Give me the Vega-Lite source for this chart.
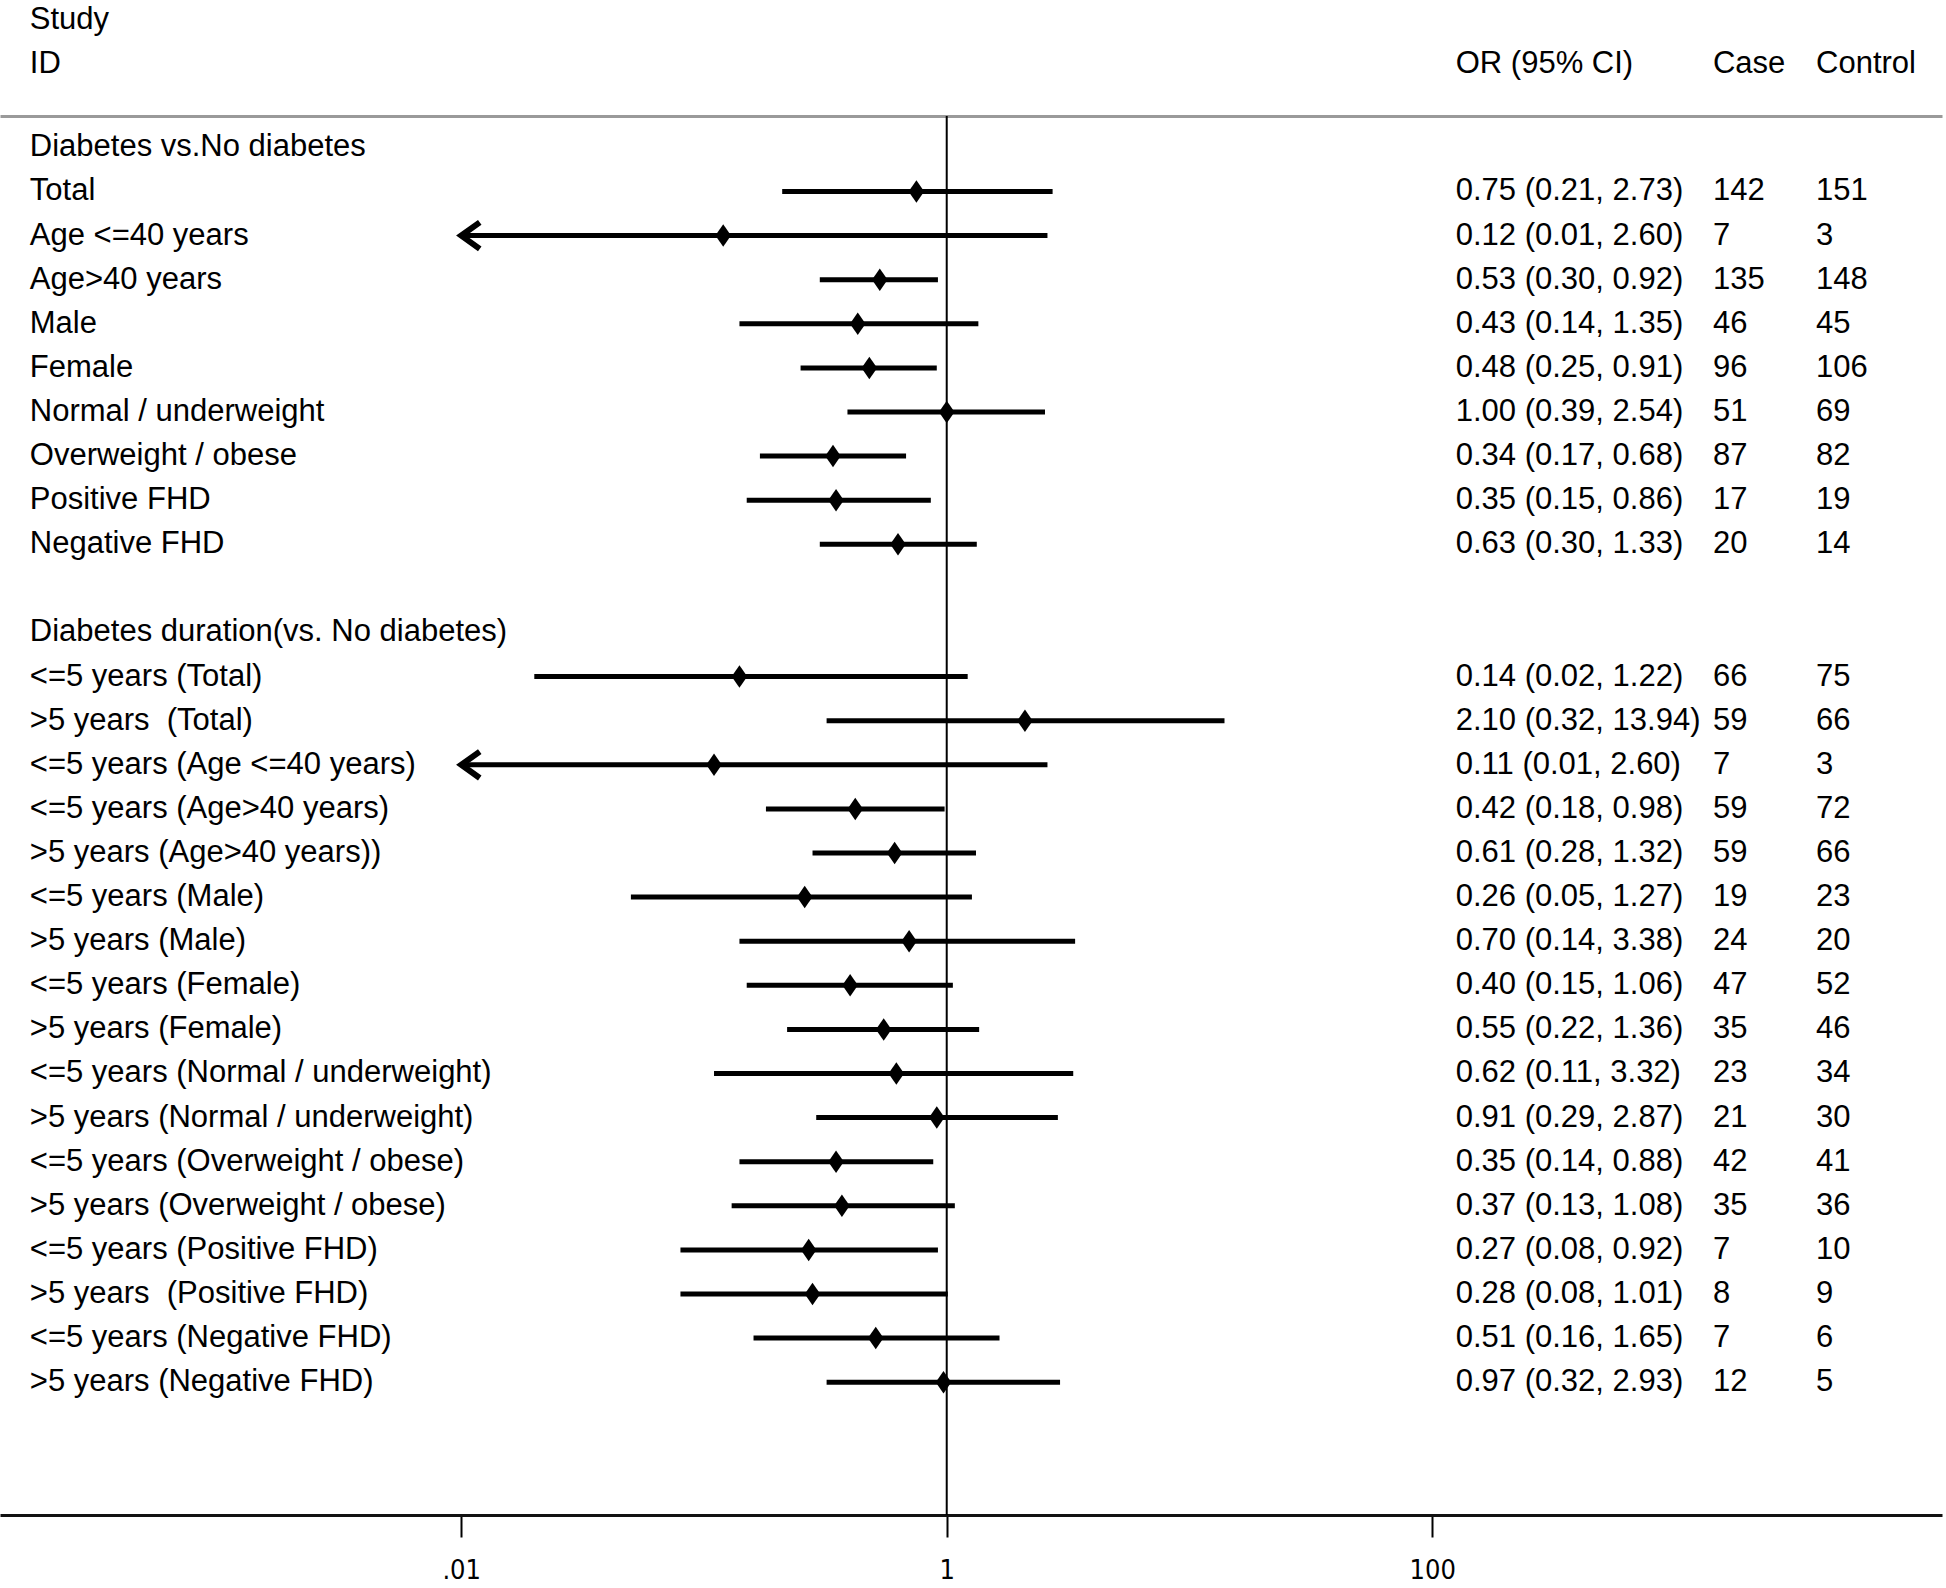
{
  "$schema": "https://vega.github.io/schema/vega-lite/v6.json",
  "background": "white",
  "padding": {"left": 0, "top": 3, "right": 4, "bottom": 0},
  "bounds": "flush",
  "config": {"view": {"stroke": null}, "font": "Liberation Sans", "text": {"font": "Liberation Sans", "fontSize": 31, "color": "black"}},
  "datasets": {
    "header": [
      {"key": "Study", "label": "Study"},
      {"key": "ID", "label": "ID", "est": "OR (95% CI)", "case": "Case", "control": "Control"}
    ],
    "rows": [
      {"key": "Diabetes vs.No diabetes", "label": "Diabetes vs.No diabetes"},
      {"key": "Total", "label": "Total", "or": 0.75, "lo": 0.21, "hi": 2.73, "est": "0.75 (0.21, 2.73)", "case": 142, "control": 151},
      {"key": "Age <=40 years", "label": "Age <=40 years", "or": 0.12, "lo": 0.01, "hi": 2.60, "est": "0.12 (0.01, 2.60)", "case": 7, "control": 3},
      {"key": "Age>40 years", "label": "Age>40 years", "or": 0.53, "lo": 0.30, "hi": 0.92, "est": "0.53 (0.30, 0.92)", "case": 135, "control": 148},
      {"key": "Male", "label": "Male", "or": 0.43, "lo": 0.14, "hi": 1.35, "est": "0.43 (0.14, 1.35)", "case": 46, "control": 45},
      {"key": "Female", "label": "Female", "or": 0.48, "lo": 0.25, "hi": 0.91, "est": "0.48 (0.25, 0.91)", "case": 96, "control": 106},
      {"key": "Normal / underweight", "label": "Normal / underweight", "or": 1.00, "lo": 0.39, "hi": 2.54, "est": "1.00 (0.39, 2.54)", "case": 51, "control": 69},
      {"key": "Overweight / obese", "label": "Overweight / obese", "or": 0.34, "lo": 0.17, "hi": 0.68, "est": "0.34 (0.17, 0.68)", "case": 87, "control": 82},
      {"key": "Positive FHD", "label": "Positive FHD", "or": 0.35, "lo": 0.15, "hi": 0.86, "est": "0.35 (0.15, 0.86)", "case": 17, "control": 19},
      {"key": "Negative FHD", "label": "Negative FHD", "or": 0.63, "lo": 0.30, "hi": 1.33, "est": "0.63 (0.30, 1.33)", "case": 20, "control": 14},
      {"key": "blank", "label": ""},
      {"key": "Diabetes duration(vs. No diabetes)", "label": "Diabetes duration(vs. No diabetes)"},
      {"key": "<=5 years (Total)", "label": "<=5 years (Total)", "or": 0.14, "lo": 0.02, "hi": 1.22, "est": "0.14 (0.02, 1.22)", "case": 66, "control": 75},
      {"key": ">5 years (Total)", "label": ">5 years \u00a0(Total)", "or": 2.10, "lo": 0.32, "hi": 13.94, "est": "2.10 (0.32, 13.94)", "case": 59, "control": 66},
      {"key": "<=5 years (Age <=40 years)", "label": "<=5 years (Age <=40 years)", "or": 0.11, "lo": 0.01, "hi": 2.60, "est": "0.11 (0.01, 2.60)", "case": 7, "control": 3},
      {"key": "<=5 years (Age>40 years)", "label": "<=5 years (Age>40 years)", "or": 0.42, "lo": 0.18, "hi": 0.98, "est": "0.42 (0.18, 0.98)", "case": 59, "control": 72},
      {"key": ">5 years (Age>40 years))", "label": ">5 years (Age>40 years))", "or": 0.61, "lo": 0.28, "hi": 1.32, "est": "0.61 (0.28, 1.32)", "case": 59, "control": 66},
      {"key": "<=5 years (Male)", "label": "<=5 years (Male)", "or": 0.26, "lo": 0.05, "hi": 1.27, "est": "0.26 (0.05, 1.27)", "case": 19, "control": 23},
      {"key": ">5 years (Male)", "label": ">5 years (Male)", "or": 0.70, "lo": 0.14, "hi": 3.38, "est": "0.70 (0.14, 3.38)", "case": 24, "control": 20},
      {"key": "<=5 years (Female)", "label": "<=5 years (Female)", "or": 0.40, "lo": 0.15, "hi": 1.06, "est": "0.40 (0.15, 1.06)", "case": 47, "control": 52},
      {"key": ">5 years (Female)", "label": ">5 years (Female)", "or": 0.55, "lo": 0.22, "hi": 1.36, "est": "0.55 (0.22, 1.36)", "case": 35, "control": 46},
      {"key": "<=5 years (Normal / underweight)", "label": "<=5 years (Normal / underweight)", "or": 0.62, "lo": 0.11, "hi": 3.32, "est": "0.62 (0.11, 3.32)", "case": 23, "control": 34},
      {"key": ">5 years (Normal / underweight)", "label": ">5 years (Normal / underweight)", "or": 0.91, "lo": 0.29, "hi": 2.87, "est": "0.91 (0.29, 2.87)", "case": 21, "control": 30},
      {"key": "<=5 years (Overweight / obese)", "label": "<=5 years (Overweight / obese)", "or": 0.35, "lo": 0.14, "hi": 0.88, "est": "0.35 (0.14, 0.88)", "case": 42, "control": 41},
      {"key": ">5 years (Overweight / obese)", "label": ">5 years (Overweight / obese)", "or": 0.37, "lo": 0.13, "hi": 1.08, "est": "0.37 (0.13, 1.08)", "case": 35, "control": 36},
      {"key": "<=5 years (Positive FHD)", "label": "<=5 years (Positive FHD)", "or": 0.27, "lo": 0.08, "hi": 0.92, "est": "0.27 (0.08, 0.92)", "case": 7, "control": 10},
      {"key": ">5 years (Positive FHD)", "label": ">5 years \u00a0(Positive FHD)", "or": 0.28, "lo": 0.08, "hi": 1.01, "est": "0.28 (0.08, 1.01)", "case": 8, "control": 9},
      {"key": "<=5 years (Negative FHD)", "label": "<=5 years (Negative FHD)", "or": 0.51, "lo": 0.16, "hi": 1.65, "est": "0.51 (0.16, 1.65)", "case": 7, "control": 6},
      {"key": ">5 years (Negative FHD)", "label": ">5 years (Negative FHD)", "or": 0.97, "lo": 0.32, "hi": 2.93, "est": "0.97 (0.32, 2.93)", "case": 12, "control": 5}
    ],
    "refline": [{"ref": 1}]
  },
  "spacing": 0,
  "resolve": {"scale": {"x": "independent", "y": "independent"}},
  "vconcat": [
    {
      "width": 1942,
      "height": 112,
      "data": {"name": "header"},
      "encoding": {
        "y": {"field": "key", "type": "ordinal", "sort": null, "scale": {"type": "point", "padding": 0.773, "align": 0.235}, "axis": null}
      },
      "layer": [
        {
          "mark": {"type": "text", "align": "left", "baseline": "middle"},
          "encoding": {
            "x": {"datum": 0.000167, "scale": {"type": "log", "domain": [0.000125893, 12589.25], "nice": false},
                  "axis": {"orient": "bottom", "domainColor": "#9a9a9a", "domainWidth": 3, "ticks": false, "labels": false, "grid": false, "title": null, "minExtent": 0, "maxExtent": 0}},
            "text": {"field": "label"}
          }
        },
        {
          "transform": [{"filter": "isValid(datum.est)"}],
          "mark": {"type": "text", "align": "left", "baseline": "middle"},
          "encoding": {"x": {"datum": 125}, "text": {"field": "est"}}
        },
        {
          "transform": [{"filter": "isValid(datum.case)"}],
          "mark": {"type": "text", "align": "left", "baseline": "middle"},
          "encoding": {"x": {"datum": 1434}, "text": {"field": "case"}}
        },
        {
          "transform": [{"filter": "isValid(datum.control)"}],
          "mark": {"type": "text", "align": "left", "baseline": "middle"},
          "encoding": {"x": {"datum": 3811}, "text": {"field": "control"}}
        }
      ]
    },
    {
      "width": 1942,
      "height": 1323,
      "data": {"name": "rows"},
      "encoding": {
        "y": {"field": "key", "type": "ordinal", "sort": null, "scale": {"type": "point", "padding": 1, "align": 0.356}, "axis": null}
      },
      "layer": [
        {
          "mark": {"type": "text", "align": "left", "baseline": "middle"},
          "encoding": {
            "x": {"datum": 0.000167, "scale": {"type": "log", "domain": [0.000125893, 12589.25], "nice": false}, "axis": null},
            "text": {"field": "label"}
          }
        },
        {
          "data": {"name": "refline"},
          "mark": {"type": "rule", "color": "black", "strokeWidth": 2},
          "encoding": {"x": {"field": "ref", "type": "quantitative", "title": null}, "y": null}
        },
        {
          "transform": [{"filter": "isValid(datum.or)"}],
          "mark": {"type": "rule", "color": "black", "strokeWidth": 5},
          "encoding": {"x": {"field": "lo", "type": "quantitative", "title": null}, "x2": {"field": "hi"}}
        },
        {
          "transform": [{"filter": "isValid(datum.or) && datum.lo <= 0.01"}],
          "mark": {"type": "point", "shape": "M1.4,-1L0,0L1.4,1", "filled": false, "stroke": "black", "strokeWidth": 6, "size": 700, "opacity": 1},
          "encoding": {"x": {"field": "lo", "type": "quantitative", "title": null}}
        },
        {
          "transform": [{"filter": "isValid(datum.or)"}],
          "mark": {"type": "point", "shape": "M0,-1.3L0.9,0L0,1.3L-0.9,0Z", "filled": true, "color": "black", "size": 300, "opacity": 1},
          "encoding": {"x": {"field": "or", "type": "quantitative", "title": null}}
        },
        {
          "transform": [{"filter": "isValid(datum.est)"}],
          "mark": {"type": "text", "align": "left", "baseline": "middle"},
          "encoding": {"x": {"datum": 125}, "text": {"field": "est"}}
        },
        {
          "transform": [{"filter": "isValid(datum.case)"}],
          "mark": {"type": "text", "align": "left", "baseline": "middle"},
          "encoding": {"x": {"datum": 1434}, "text": {"field": "case"}}
        },
        {
          "transform": [{"filter": "isValid(datum.control)"}],
          "mark": {"type": "text", "align": "left", "baseline": "middle"},
          "encoding": {"x": {"datum": 3811}, "text": {"field": "control"}}
        }
      ]
    },
    {
      "width": 1942,
      "height": 76,
      "data": {"name": "refline"},
      "mark": {"type": "rule", "color": "black", "strokeWidth": 2},
      "encoding": {
        "x": {"field": "ref", "type": "quantitative", "title": null,
              "scale": {"type": "log", "domain": [0.000125893, 12589.25], "nice": false},
              "axis": {"orient": "bottom", "values": [0.01, 1, 100], "labelExpr": "datum.value < 0.1 ? '.01' : (datum.value < 10 ? '1' : '100')",
                       "domainColor": "#111111", "domainWidth": 3, "tickColor": "black", "tickWidth": 2, "tickSize": 22,
                       "labelFont": "DejaVu Sans Condensed, Liberation Sans Narrow, Liberation Sans", "labelFontSize": 27, "labelColor": "black", "labelPadding": 20, "grid": false, "title": null}}
      }
    }
  ]
}
